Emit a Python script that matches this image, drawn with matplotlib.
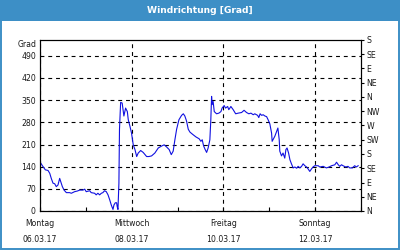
import matplotlib
matplotlib.use("Agg")
import matplotlib.pyplot as plt
from matplotlib.patches import Rectangle
from matplotlib.ticker import FixedLocator, FixedFormatter

TITLE = "Windrichtung [Grad]"
FRAME_BLUE = "#3d8fc6"
LINE_BLUE = "#1010e0"
TEXT_COL = "#1a1a1a"

# hours since Monday 06.03.17 00:00
HOURS = [
    0.4, 1.6, 2.8, 4.2, 5.1, 5.9, 6.8, 7.7, 8.5, 9.4, 10.3, 11.1, 11.7, 12.6,
    13.8, 15.5, 16.4, 18.1, 19.5, 20.8, 22.5, 23.4, 24.2, 26.0, 26.8, 28.6,
    29.4, 30.3, 31.2, 32.1, 32.9, 33.8, 34.7, 35.6, 36.5, 37.3, 38.2, 38.7,
    39.4, 40.1, 40.4, 40.8, 41.3, 41.6, 42.2, 43.0, 43.9, 44.8, 45.7, 46.2,
    47.1, 47.9, 48.8, 49.7, 50.6, 51.4, 52.7, 54.0, 55.8, 57.0, 58.4, 60.1,
    61.9, 63.6, 65.0, 66.3, 67.6, 68.7, 69.7, 70.6, 71.5, 72.7, 74.1, 75.0,
    75.8, 76.7, 77.6, 78.5, 79.9, 81.6, 83.3, 84.2, 84.9, 85.6, 86.3, 87.2,
    88.0, 88.9, 89.4, 89.8, 90.1, 90.6, 91.2, 92.4, 93.6, 94.7, 95.3, 96.4,
    97.1, 98.2, 98.8, 99.9, 101.1, 102.4, 103.7, 105.5, 106.8, 108.1, 109.3,
    110.4, 111.6, 112.4, 113.9, 114.5, 115.2, 116.0, 116.8, 117.7, 118.6,
    119.4, 120.3, 121.2, 121.5, 122.2, 122.9, 123.8, 124.5, 125.2, 125.5,
    126.4, 127.2, 128.1, 128.7, 129.3, 130.1, 130.8, 131.6, 132.5, 133.4,
    134.3, 135.1, 136.0, 136.9, 137.7, 138.6, 139.5, 140.3, 141.2, 142.1,
    142.9, 143.8, 145.6, 146.4, 148.2, 149.9, 151.3, 152.6, 154.3, 155.2,
    156.1, 156.9, 157.8, 158.6, 160.0, 161.2, 162.1, 163.5, 164.7, 165.6,
    166.5,
]
DEGREES = [
    151, 140, 130, 128, 119, 103, 88, 86, 77, 82, 103, 88, 77, 66,
    58, 58, 56, 61, 63, 66, 66, 69, 61, 64, 58, 56,
    51, 56, 51, 56, 58, 64, 61, 51, 35, 19, 5, 19,
    26, 26, 14, 5, 88, 258, 343, 341, 300, 325, 314, 288,
    267, 246, 209, 194, 172, 183, 191, 185, 172, 172, 174, 183,
    199, 205, 209, 202, 194, 178, 189, 225, 258, 288, 302, 307,
    300, 284, 258, 249, 242, 234, 228, 220, 225, 206, 196, 185,
    199, 225, 288, 362, 336, 346, 314, 307, 309, 314, 325, 333,
    325, 330, 320, 330, 320, 307, 309, 311, 318, 311, 307,
    309, 304, 307, 302, 295, 307, 302, 304, 300, 298,
    288, 275, 246, 220, 228, 236, 251, 262, 225, 189,
    174, 183, 167, 194, 199, 183, 162, 149, 136, 139,
    135, 141, 136, 141, 149, 143, 139, 133, 125, 133,
    139, 143, 143, 139, 141, 136, 139, 143, 146, 154,
    146, 141, 146, 143, 139, 141, 136, 136, 143, 139,
    143,
]

LEFT_TICKS = [0, 70, 140, 210, 280, 350, 420, 490]
RIGHT_TICKS = [0, 45, 90, 135, 180, 225, 270, 315, 360, 405, 450, 495, 540]
RIGHT_LABELS = ["N", "NE", "E", "SE", "S", "SW", "W", "NW", "N", "NE", "E", "SE", "S"]
DAY_TICKS = [0, 48, 96, 144]
DAY_LABELS = ["Montag\n06.03.17", "Mittwoch\n08.03.17", "Freitag\n10.03.17", "Sonntag\n12.03.17"]
MINOR_TICKS = [24, 72, 120, 168]

plt.rcParams["font.family"] = "DejaVu Sans"
FS = 5.6

fig = plt.figure(figsize=(4, 2.5), dpi=100)
fig.patch.set_facecolor("white")

# frame + title bar
fig.patches.append(Rectangle((0, 0.918), 1, 0.082, transform=fig.transFigure,
                             facecolor=FRAME_BLUE, edgecolor="none", zorder=0))
fig.patches.append(Rectangle((0.002, 0.003), 0.996, 0.994, transform=fig.transFigure,
                             fill=False, edgecolor=FRAME_BLUE, lw=1.4, zorder=0))
fig.text(0.5, 0.958, TITLE, ha="center", va="center", color="white",
         fontsize=6.6, fontweight="bold")

ax = fig.add_axes([0.1, 0.156, 0.8025, 0.684])
ax.plot(HOURS, DEGREES, color=LINE_BLUE, lw=0.8, clip_on=True)
ax.set_xlim(0, 168)
ax.set_ylim(0, 540)

ax.yaxis.set_major_locator(FixedLocator(LEFT_TICKS))
ax.tick_params(axis="y", length=0, pad=3, labelsize=FS, labelcolor=TEXT_COL)

ax.xaxis.set_major_locator(FixedLocator(DAY_TICKS))
ax.xaxis.set_major_formatter(FixedFormatter(DAY_LABELS))
ax.xaxis.set_minor_locator(FixedLocator(MINOR_TICKS))
ax.tick_params(axis="x", which="both", direction="in", length=3, width=0.8,
               pad=6, labelsize=FS, labelcolor=TEXT_COL)
for lab in ax.get_xticklabels():
    lab.set_linespacing(1.9)

ax.grid(True, color="black", lw=0.8, linestyle=(0, (3.5, 3.5)))
for sp in ax.spines.values():
    sp.set_linewidth(0.8)

ax.text(-0.012, 1.0, "Grad", transform=ax.transAxes, ha="right", va="top",
        fontsize=FS, color=TEXT_COL)

ax2 = ax.twinx()
ax2.set_ylim(0, 540)
ax2.yaxis.set_major_locator(FixedLocator(RIGHT_TICKS))
ax2.yaxis.set_major_formatter(FixedFormatter(RIGHT_LABELS))
ax2.tick_params(axis="y", direction="out", length=2.5, width=0.8, pad=1.5,
                labelsize=FS, labelcolor=TEXT_COL)
for sp in ax2.spines.values():
    sp.set_linewidth(0.8)

fig.savefig("out.png", dpi=100)
